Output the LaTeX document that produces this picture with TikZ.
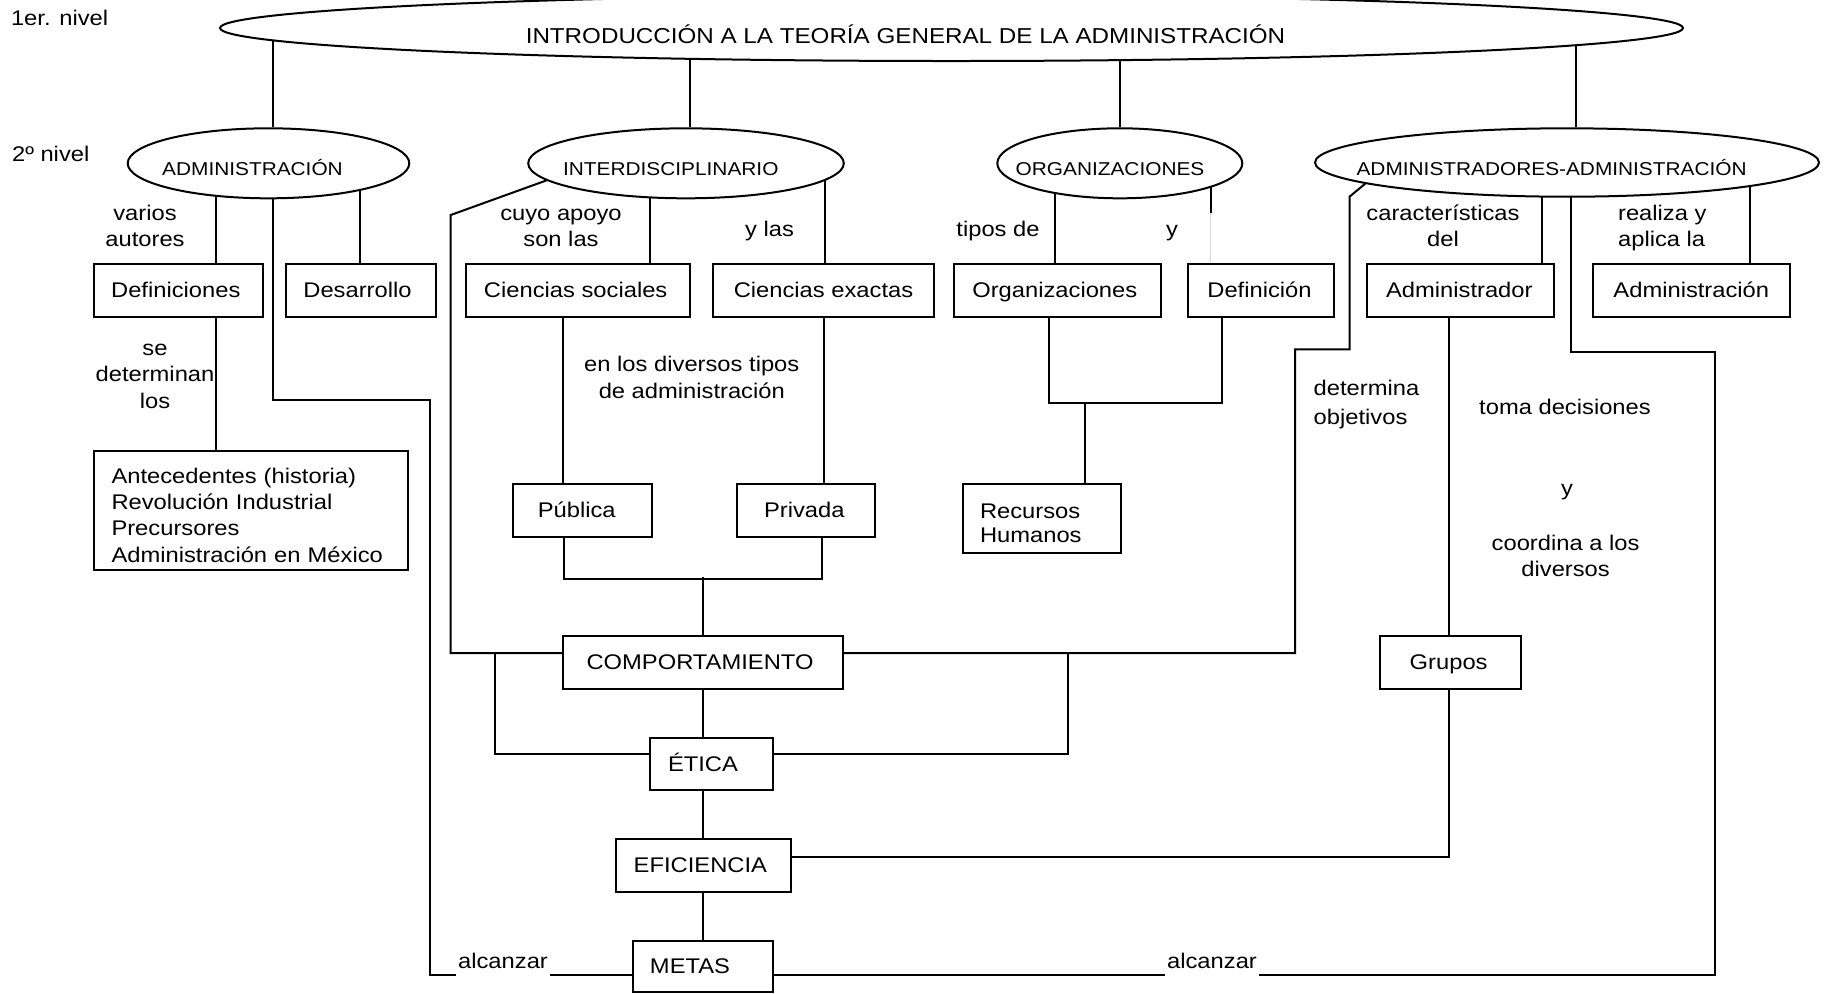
\documentclass[tikz,border=0pt]{standalone}
\usepackage{fontspec}
\setmainfont{Liberation Sans}[FakeStretch=1.12]
\usetikzlibrary{shapes.geometric}
\pgfdeclarelayer{paper}
\pgfdeclarelayer{bg}
\pgfsetlayers{paper,bg,main}
\newcommand\myzc[1]{\makebox[0pt]{#1}}
\newcommand\mytc[1]{\begin{tabular}[t]{@{}c@{}}#1\end{tabular}}
\newcommand\mytl[1]{\begin{tabular}[t]{@{}l@{}}#1\end{tabular}}
\tikzset{
  body/.style={font=\fontsize{10.6pt}{13.3pt}\selectfont},
  lbl/.style={body, inner sep=0pt, anchor=base},
  bx/.style={body, draw, fill=white, rectangle, inner sep=0pt, line width=1pt, text height=7.3pt, text depth=0pt},
  el/.style={draw, fill=white, ellipse, inner sep=0pt, line width=1pt, font=\fontsize{9.3pt}{11pt}\selectfont, text height=11.7pt, text depth=0pt},
  ln/.style={line width=1pt},
}
\begin{document}
\begin{tikzpicture}[x=0.5pt,y=-0.5pt]
\useasboundingbox (0,0) rectangle (1831,993);
\begin{pgfonlayer}{paper}
\fill[white] (0,0) rectangle (1831,993);
\end{pgfonlayer}

% ellipses
\node[el, minimum width=731.5pt, minimum height=33pt, font=\fontsize{10.8pt}{13pt}\selectfont, text height=15.3pt] (top) at (951.5,28) {\myzc{INTRODUCCIÓN A LA TEORÍA GENERAL DE LA ADMINISTRACIÓN\hspace*{46pt}}};
\node[el, minimum width=140.8pt, minimum height=35pt] (admin) at (268.5,163.3) {\myzc{ADMINISTRACIÓN\hspace*{16pt}}};
\node[el, minimum width=157.8pt, minimum height=35pt] (inter) at (686,163.3) {\myzc{INTERDISCIPLINARIO\hspace*{15.2pt}}};
\node[el, minimum width=122.5pt, minimum height=35pt] (org) at (1119.8,163.3) {\myzc{ORGANIZACIONES\hspace*{9.8pt}}};
\node[el, minimum width=252pt, minimum height=34.2pt, text height=12.5pt] (admadm) at (1567,162.5) {\myzc{ADMINISTRADORES-ADMINISTRACIÓN\hspace*{15.4pt}}};

% boxes
\node[bx, minimum width=84.5pt, minimum height=26.2pt] (defs) at (178.8,290.5) {Definiciones\hspace*{3pt}};
\node[bx, minimum width=75pt, minimum height=26.2pt] (desa) at (360.7,290.5) {Desarrollo\hspace*{3.2pt}};
\node[bx, minimum width=112.15pt, minimum height=26.2pt] (csoc) at (578.2,290.5) {Ciencias sociales\hspace*{2.5pt}};
\node[bx, minimum width=110.5pt, minimum height=26.2pt] (cexa) at (823.5,290.5) {Ciencias exactas};
\node[bx, minimum width=103.35pt, minimum height=26.2pt] (orgs) at (1057.3,290.5) {Organizaciones\hspace*{2.5pt}};
\node[bx, minimum width=72.85pt, minimum height=26.2pt] (defn) at (1261.2,290.5) {Definición\hspace*{1.7pt}};
\node[bx, minimum width=93.5pt, minimum height=26.2pt] (admr) at (1460.8,290.5) {Administrador\hspace*{1.5pt}};
\node[bx, minimum width=98.65pt, minimum height=26.2pt] (admn) at (1691.3,290.5) {Administración};
\node[bx, minimum width=157pt, minimum height=59.65pt, text width=139.4pt, inner xsep=8.8pt, align=left, font=\fontsize{10.6pt}{13.15pt}\selectfont, text height=8pt, text depth=35.05pt] (antec) at (250.9,510.35) {Antecedentes (historia)\\Revolución Industrial\\Precursores\\Administración en México};
\node[bx, minimum width=69.5pt, minimum height=26.35pt] (pub) at (582.2,510.35) {Pública\hspace*{5.5pt}};
\node[bx, minimum width=68.85pt, minimum height=26.35pt] (priv) at (806.2,510.35) {Privada\hspace*{1.9pt}};
\node[bx, minimum width=78.7pt, minimum height=34.35pt, text width=62pt, inner xsep=8.35pt, align=left, font=\fontsize{10.6pt}{12pt}\selectfont, text height=8pt, text depth=8pt] (rrhh) at (1042,518.35) {Recursos\\Humanos};
\node[bx, minimum width=139.85pt, minimum height=26.5pt] (comp) at (703.2,662.5) {COMPORTAMIENTO\hspace*{3.2pt}};
\node[bx, minimum width=61.4pt, minimum height=25.85pt] (etica) at (711.6,764.15) {ÉTICA\hspace*{8.6pt}};
\node[bx, minimum width=87.15pt, minimum height=26.2pt] (efic) at (703.35,865.5) {EFICIENCIA\hspace*{3pt}};
\node[bx, minimum width=70.2pt, minimum height=25.65pt] (metas) at (702.8,966.65) {METAS\hspace*{12.8pt}};
\node[bx, minimum width=70.35pt, minimum height=26.65pt] (grupos) at (1450.15,662.65) {Grupos\hspace*{1.5pt}};

% free labels
\node[lbl, anchor=base west] (n1) at (10.6,25) {1er. nivel};
\node[lbl, anchor=base west] (n2) at (11.7,161.7) {2º nivel};
\node[lbl] (l1) at (145,220) {\mytc{varios\\autores}};
\node[lbl] (l2) at (561,220) {\mytc{cuyo apoyo\\son las}};
\node[lbl] (l3) at (769.5,236.7) {y las};
\node[lbl] (l4) at (998,236.7) {tipos de};
\node[lbl] (l5) at (1172,236.7) {y};
\node[lbl] (l6) at (1443,220) {\mytc{características\\del}};
\node[lbl, anchor=base west] (l7) at (1617.7,220) {\mytl{realiza y\\aplica la}};
\node[lbl] (l8) at (155,355) {\mytc{se\\determinan\\los}};
\node[lbl] (l9) at (691.8,371.7) {\mytc{en los diversos tipos\\de administración}};
\node[lbl, anchor=base west] (l10) at (1313.3,395) {\mytl{determina\\[1.2pt]objetivos}};
\node[lbl] (l11) at (1565,414) {toma decisiones};
\node[lbl] (l12) at (1567,495) {y};
\node[lbl] (l13) at (1565.6,550) {\mytc{coordina a los\\[-0.3pt]diversos}};
\node[lbl, fill=white, inner xsep=1pt, text depth=4.5pt] (alc1) at (503,968.3) {alcanzar};
\node[lbl, fill=white, inner xsep=1pt, text depth=4.5pt] (alc2) at (1212,968.3) {alcanzar};

\coordinate (jl) at (494.7,653);
\coordinate (jr) at (1068,653);

\begin{pgfonlayer}{bg}
% level 1 -> level 2
\draw[ln] ([xshift=2.4pt]admin.north) |- (top.center);
\draw[ln] ([xshift=1.85pt]inter.north) |- (top.center);
\draw[ln] (org.north) |- (top.center);
\draw[ln] ([xshift=4.5pt]admadm.north) |- (top.center);
% ADMINISTRACION
\draw[ln] ([xshift=18.6pt]defs.north) |- (admin.center);
\draw[ln] ([xshift=-0.35pt]desa.north) |- (admin.center);
\draw[ln] ([xshift=2.4pt]admin.center) |- (429.5,400) |- ([yshift=-4.175pt]metas.west);
\draw[ln] ([xshift=18.6pt]defs.south) -- ([xshift=18.6pt]defs.south |- antec.north);
% INTERDISCIPLINARIO
\draw[ln] ([xshift=36.05pt]csoc.north) |- (inter.center);
\draw[ln] ([xshift=0.6pt]cexa.north) |- (inter.center);
\draw[ln] (inter.187) -- (450.7,215) |- ([yshift=4.75pt]comp.west);
\draw[ln] ([xshift=-7.45pt]csoc.south) -- ([xshift=-7.45pt]csoc.south |- pub.north);
\draw[ln] ([xshift=0.4pt]cexa.south) -- ([xshift=0.4pt]cexa.south |- priv.north);
\draw[ln] ([xshift=-8.95pt]pub.south) -- ++(0,41.6) -| ([xshift=7.75pt]priv.south);
\draw[ln] (comp.north) -- ++(0,-57.7);
% ORGANIZACIONES
\draw[ln] ([xshift=-1.15pt]orgs.north) |- (org.center);
\draw[ln] ([xshift=-25.25pt]defn.north) ++(0,-50) |- (org.center);
\draw[gray!30, line width=0.6pt] ([xshift=-25.25pt]defn.north) -- ++(0,-50);
\draw[ln] ([xshift=-4.15pt]orgs.south) -- ++(0,85) -| ([xshift=-19.45pt]defn.south);
\draw[ln] ([xshift=21.5pt]rrhh.north) -- ++(0,-79);
% ADMINISTRADORES-ADMINISTRACION
\draw[ln] ([xshift=40.45pt]admr.north) |- (admadm.center);
\draw[ln] ([xshift=29.35pt]admn.north) |- (admadm.center);
\draw[ln] (admadm.186) -- (1349.5,196.7) |- (1295,349.3) |- ([yshift=4.75pt]comp.east);
\draw[ln] ([xshift=2pt]admadm.center) |- (1714.7,351.7) |- ([yshift=-4.175pt]metas.east);
\draw[ln] ([xshift=-5.75pt]admr.south) -- ([xshift=-5.75pt]admr.south |- grupos.north);
\draw[ln] ([xshift=-0.43pt]grupos.south) |- ([yshift=4.4pt]efic.east);
% central chain
\draw[ln] (comp.south) -- (comp.south |- etica.north);
\draw[ln] (comp.south |- etica.south) -- (comp.south |- efic.north);
\draw[ln] (comp.south |- efic.south) -- (comp.south |- metas.north);
\draw[ln] (jl) |- ([yshift=4.93pt]etica.west);
\draw[ln] (jr) |- ([yshift=4.93pt]etica.east);
\end{pgfonlayer}
\end{tikzpicture}
\end{document}
